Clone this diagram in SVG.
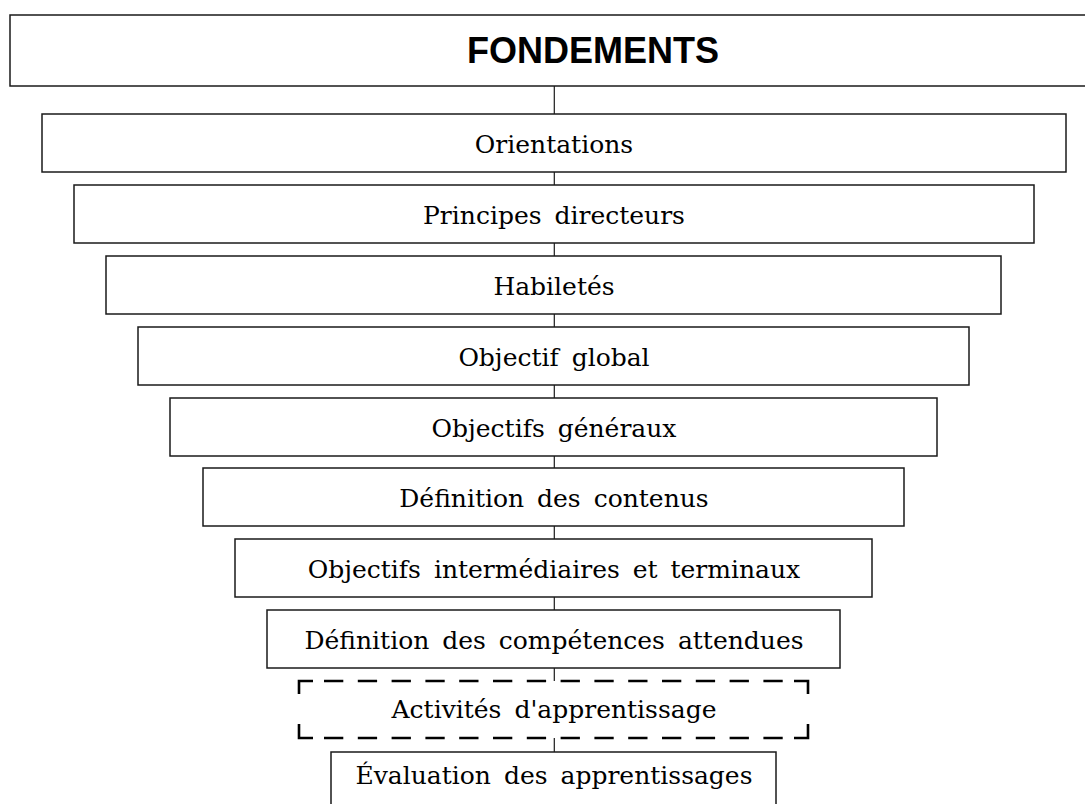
<svg xmlns="http://www.w3.org/2000/svg" width="1085" height="804" viewBox="0 0 1085 804">
<style>
.box{fill:#fff;stroke:#1a1a1a;stroke-width:1.5}
.lbl{font-family:"DejaVu Serif","Liberation Serif",serif;font-size:25px;fill:#000;text-anchor:middle;word-spacing:5px}
.title{font-family:"Liberation Sans",Arial,sans-serif;font-size:36px;font-weight:bold;fill:#000;text-anchor:middle}
.conn{stroke:#1a1a1a;stroke-width:1.2;fill:none}
.dash{stroke:#000;stroke-width:2.6;fill:none}
</style>
<rect width="1085" height="804" fill="#fff"/>
<g id="connectors">
<line class="conn" x1="554.3" y1="86" x2="554.3" y2="114"/>
<line class="conn" x1="554.3" y1="172" x2="554.3" y2="185"/>
<line class="conn" x1="554.3" y1="243" x2="554.3" y2="256"/>
<line class="conn" x1="554.3" y1="314" x2="554.3" y2="327"/>
<line class="conn" x1="554.3" y1="385" x2="554.3" y2="398"/>
<line class="conn" x1="554.3" y1="456" x2="554.3" y2="468"/>
<line class="conn" x1="554.3" y1="526" x2="554.3" y2="539"/>
<line class="conn" x1="554.3" y1="597" x2="554.3" y2="610"/>
<line class="conn" x1="554.3" y1="668" x2="554.3" y2="681"/>
<line class="conn" x1="554.3" y1="738" x2="554.3" y2="752"/>
</g>
<g id="fondements">
<rect class="box" x="10" y="15" width="1170" height="71"/>
<text class="title" x="593" y="63">FONDEMENTS</text>
</g>
<g id="orientations">
<rect class="box" x="42" y="114" width="1024" height="58"/>
<text class="lbl" x="554" y="153">Orientations</text>
</g>
<g id="principes">
<rect class="box" x="74" y="185" width="960" height="58"/>
<text class="lbl" x="554" y="224">Principes directeurs</text>
</g>
<g id="habiletes">
<rect class="box" x="106" y="256" width="895" height="58"/>
<text class="lbl" x="554" y="295">Habiletés</text>
</g>
<g id="objectif-global">
<rect class="box" x="138" y="327" width="831" height="58"/>
<text class="lbl" x="554" y="366">Objectif global</text>
</g>
<g id="objectifs-generaux">
<rect class="box" x="170" y="398" width="767" height="58"/>
<text class="lbl" x="554" y="437">Objectifs généraux</text>
</g>
<g id="contenus">
<rect class="box" x="203" y="468" width="701" height="58"/>
<text class="lbl" x="554" y="507">Définition des contenus</text>
</g>
<g id="intermediaires">
<rect class="box" x="235" y="539" width="637" height="58"/>
<text class="lbl" x="554" y="578">Objectifs intermédiaires et terminaux</text>
</g>
<g id="competences">
<rect class="box" x="267" y="610" width="573" height="58"/>
<text class="lbl" x="554" y="649">Définition des compétences attendues</text>
</g>
<g id="activites">
<rect x="299" y="681" width="509" height="57" fill="#fff"/>
<polyline class="dash" points="299,694 299,681 313,681"/>
<polyline class="dash" points="794,681 808,681 808,694"/>
<polyline class="dash" points="299,724 299,738 313,738"/>
<polyline class="dash" points="794,738 808,738 808,724"/>
<line class="dash" x1="324" y1="681" x2="783" y2="681" stroke-dasharray="19.3 14.5"/>
<line class="dash" x1="324" y1="738" x2="783" y2="738" stroke-dasharray="19.3 14.5"/>
<text class="lbl" x="554" y="718">Activités d'apprentissage</text>
</g>
<g id="evaluation">
<rect class="box" x="331" y="752" width="445" height="70"/>
<text class="lbl" x="554" y="784">Évaluation des apprentissages</text>
</g>
</svg>
